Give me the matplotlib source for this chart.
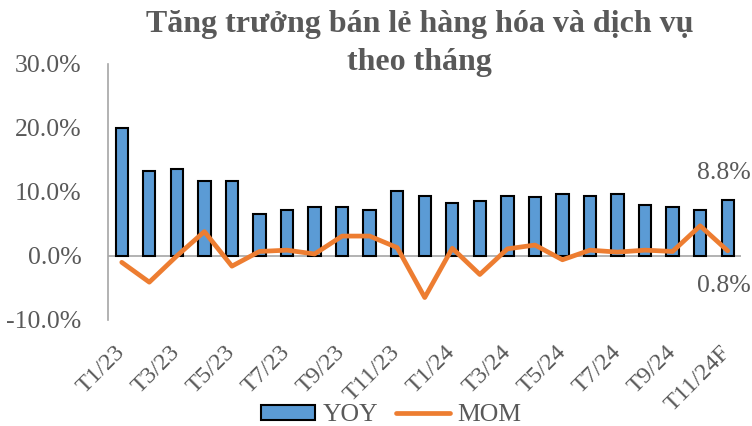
import matplotlib.pyplot as plt
import numpy as np

months = ['T1/23', 'T2/23', 'T3/23', 'T4/23', 'T5/23', 'T6/23', 'T7/23', 'T8/23',
          'T9/23', 'T10/23', 'T11/23', 'T12/23', 'T1/24', 'T2/24', 'T3/24', 'T4/24',
          'T5/24', 'T6/24', 'T7/24', 'T8/24', 'T9/24', 'T10/24', 'T11/24F']
yoy = [20.0, 13.3, 13.6, 11.7, 11.7, 6.6, 7.2, 7.7, 7.6, 7.1, 10.2, 9.4,
       8.2, 8.6, 9.3, 9.2, 9.6, 9.3, 9.6, 8.0, 7.7, 7.1, 8.8]
mom = [-1.0, -4.1, 0.0, 3.8, -1.6, 0.7, 0.9, 0.3, 3.1, 3.1, 1.3, -6.5,
       1.2, -2.9, 1.1, 1.7, -0.6, 0.9, 0.6, 0.9, 0.7, 4.7, 0.8]

gray = '#595959'
plt.rcParams['font.family'] = ['Liberation Serif', 'DejaVu Serif']

fig = plt.figure(figsize=(7.52, 4.26), dpi=100)
ax = fig.add_axes([0.1436, 0.249, 0.986 - 0.1436, 0.601])

x = np.arange(len(months))
bars = ax.bar(x, yoy, width=0.45, color='#5B9BD5', edgecolor='black', linewidth=1.5,
              label='YOY', zorder=2)
line, = ax.plot(x, mom, color='#ED7D31', linewidth=3.4, solid_capstyle='round',
                label='MOM', zorder=3)
ax.axhline(0, color='#A6A6A6', linewidth=1.2, zorder=1)

ax.set_xlim(-0.5, len(months) - 0.5)
ax.set_ylim(-10, 30)
ax.set_yticks([-10, 0, 10, 20, 30])
ax.set_yticklabels(['-10.0%', '0.0%', '10.0%', '20.0%', '30.0%'])
ax.set_xticks(x[::2])
ax.set_xticklabels(months[::2], rotation=45, ha='right', va='center',
                   rotation_mode='anchor')
ax.tick_params(axis='y', length=0, pad=19, labelsize=18.5, labelcolor=gray)
ax.tick_params(axis='x', length=0, pad=21, labelsize=17.5, labelcolor=gray)

for s in ['top', 'right', 'bottom']:
    ax.spines[s].set_visible(False)
ax.spines['left'].set_color('#A6A6A6')
ax.spines['left'].set_linewidth(1.2)

ax.annotate('8.8%', (x[-1], yoy[-1]), xytext=(-3, 19), textcoords='offset points',
            ha='center', va='center', fontsize=18.5, color=gray)
ax.annotate('0.8%', (x[-1], mom[-1]), xytext=(-3, -25), textcoords='offset points',
            ha='center', va='center', fontsize=18.5, color=gray)

fig.text(0.558, 0.898, 'Tăng trưởng bán lẻ hàng hóa và dịch vụ\ntheo tháng',
         ha='center', va='center', fontsize=23, fontweight='bold', color=gray,
         linespacing=1.38)

fig.legend([bars, line], ['YOY', 'MOM'], loc='center', bbox_to_anchor=(0.52, 0.025),
           ncol=2, frameon=False, fontsize=18.5, labelcolor=gray, handlelength=2.1,
           handleheight=0.55, handletextpad=0.3, columnspacing=0.7)

fig.savefig('out.png', dpi=100)
